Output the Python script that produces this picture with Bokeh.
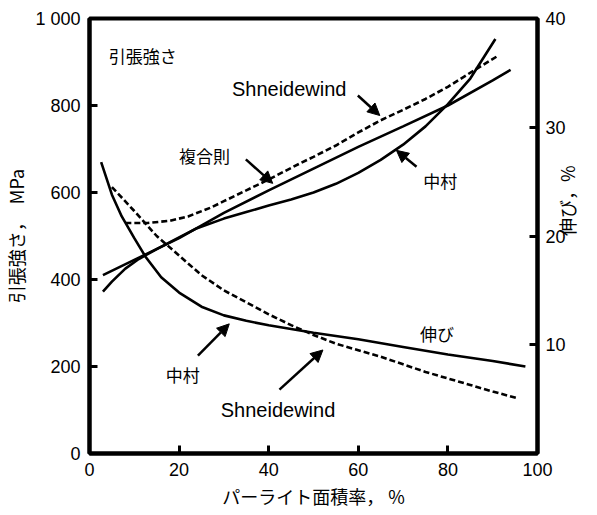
import math
from bokeh.plotting import figure
from bokeh.models import Range1d, LinearAxis, Arrow, NormalHead, Label, FixedTicker
from bokeh.embed import file_html
from bokeh.resources import INLINE

# ---- data ----
# tensile strength, MPa (left axis)
rule_x = [3, 10, 20, 30, 40, 50, 60, 70, 80, 90, 94]
rule_ts = [410, 445, 495, 553, 605, 655, 705, 752, 800, 858, 882]

nakamura_ts_x = [3, 5, 8, 11, 15, 20, 24, 30, 35, 40, 45, 50, 55, 60, 65, 70, 75, 80, 85, 90.6]
nakamura_ts = [372, 395, 425, 447, 470, 497, 518, 540, 555, 570, 584, 600, 620, 645, 675, 710, 752, 803, 862, 953]

shneid_ts_x = [8, 13, 18, 22, 27, 30, 35, 40, 47, 50, 55, 60, 65, 70, 75, 80, 86.5, 91.3]
shneid_ts = [530, 530, 535, 545, 565, 580, 605, 630, 667, 682, 708, 738, 766, 790, 815, 843, 885, 915]

# elongation, % (right axis)
nakamura_el_x = [2.6, 5, 7.2, 10, 12.5, 16, 20, 25, 30, 35, 40, 50, 60, 70, 80, 90, 97.3]
nakamura_el = [26.8, 23.8, 21.8, 19.8, 18.1, 16.2, 14.8, 13.5, 12.7, 12.2, 11.8, 11.1, 10.5, 9.8, 9.1, 8.5, 8.0]

shneid_el_x = [5, 10, 15, 20, 25, 30, 35, 40, 45, 50, 55, 60, 65, 70, 75, 80, 85, 90, 95.4]
shneid_el = [24.5, 22.3, 20.0, 18.2, 16.4, 15.0, 13.9, 12.8, 11.8, 10.9, 10.1, 9.5, 8.9, 8.2, 7.5, 6.9, 6.3, 5.7, 5.1]

x_ticks = [0, 20, 40, 60, 80, 100]
ts_ticks = [0, 200, 400, 600, 800, 1000]
el_ticks = [10, 20, 30, 40]

x_title = "パーライト面積率， %"
ts_title = "引張強さ，　MPa"
el_title = "伸び，%"

# annotation texts and anchor positions (x in %, y in MPa)
label_texts = ["引張強さ", "Shneidewind", "複合則", "中村", "中村", "Shneidewind", "伸び"]
label_x = [4.3, 31.8, 20.0, 74.5, 17.0, 29.3, 73.8]
label_y = [915, 838, 686, 627, 181, 101, 276]

arrow_x0 = [59.9, 34.9, 73.0, 24.2, 42.4]
arrow_y0 = [823, 676, 659, 225, 147]
arrow_x1 = [64.8, 40.9, 68.5, 31.2, 52.1]
arrow_y1 = [777, 621, 697, 298, 238]

LATIN = "Liberation Sans"
CJK = "Noto Sans CJK JP"

p = figure(width=595, height=511,
           min_border_left=83, min_border_top=18, min_border_right=52, min_border_bottom=45,
           x_range=Range1d(0, 100), y_range=Range1d(0, 1000),
           output_backend="svg", toolbar_location=None,
           background_fill_color="white", border_fill_color="white")
p.extra_y_ranges = {"el": Range1d(0, 40)}

p.xgrid.visible = False
p.ygrid.visible = False
p.outline_line_color = "black"
p.outline_line_width = 4

right_axis = LinearAxis(y_range_name="el")
p.add_layout(right_axis, "right")

p.xaxis.ticker = FixedTicker(ticks=x_ticks)
p.yaxis[0].ticker = FixedTicker(ticks=ts_ticks)
right_axis.ticker = FixedTicker(ticks=el_ticks)
p.yaxis[0].major_label_overrides = {1000: "1 000"}

for ax in [p.xaxis[0], p.yaxis[0], right_axis]:
    ax.axis_line_width = 4
    ax.axis_line_color = "black"
    ax.major_tick_in = 8
    ax.major_tick_out = 0
    ax.major_tick_line_width = 3
    ax.minor_tick_line_color = None
    ax.major_label_text_font = LATIN
    ax.major_label_text_font_size = "18px"
    ax.major_label_text_color = "black"
    ax.axis_label_text_font = CJK
    ax.axis_label_text_font_size = "18px"
    ax.axis_label_text_font_style = "normal"
    ax.axis_label_text_color = "black"

p.xaxis.axis_label = x_title
p.yaxis[0].axis_label = ts_title
right_axis.axis_label = el_title
p.xaxis.major_label_standoff = 9
p.yaxis[0].major_label_standoff = 9
right_axis.major_label_standoff = 8
p.xaxis.axis_label_standoff = 4
p.yaxis[0].axis_label_standoff = 3
right_axis.axis_label_standoff = -2
right_axis.axis_label_orientation = math.pi / 2

# curves
p.line(rule_x, rule_ts, line_width=2.6, color="black")
p.line(nakamura_ts_x, nakamura_ts, line_width=2.6, color="black")
p.line(shneid_ts_x, shneid_ts, line_width=2.6, color="black", line_dash="6 3")
p.line(nakamura_el_x, nakamura_el, line_width=2.6, color="black", y_range_name="el")
p.line(shneid_el_x, shneid_el, line_width=2.6, color="black", line_dash="6 3", y_range_name="el")

# arrows
for x0, y0, x1, y1 in zip(arrow_x0, arrow_y0, arrow_x1, arrow_y1):
    p.add_layout(Arrow(x_start=x0, y_start=y0, x_end=x1, y_end=y1,
                       line_width=2.5, line_color="black",
                       end=NormalHead(size=12, fill_color="black", line_color="black", line_width=1)))

# in-plot labels
for t, x, y in zip(label_texts, label_x, label_y):
    is_cjk = any(ord(c) > 0x2000 for c in t)
    p.add_layout(Label(x=x, y=y, text=t, text_align="left", text_baseline="middle",
                       text_font=CJK if is_cjk else LATIN,
                       text_font_size="17px" if is_cjk else "20px",
                       text_color="black"))

open("out.html", "w").write(file_html(p, INLINE))
